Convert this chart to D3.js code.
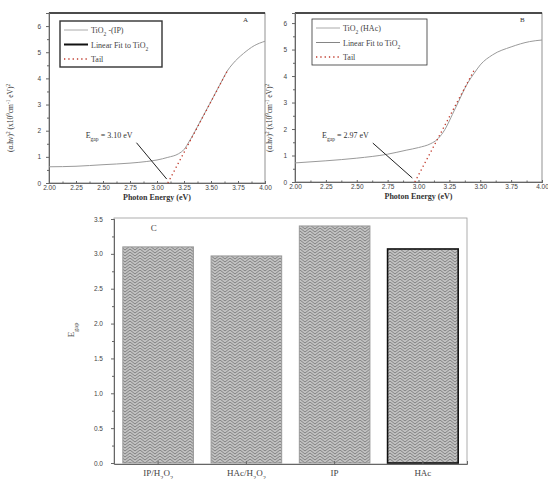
<!DOCTYPE html>
<html lang="en">
<head>
<meta charset="UTF-8">
<title>TiO2 band gap</title>
<script src="https://d3js.org/d3.v7.min.js"></script>
<style>
    body { margin: 0; background: #fff; }
    svg { display: block; font-family: "Liberation Serif", "DejaVu Serif", serif; }
    .tick text { font-size: 6.5px; fill: #444; }
    .domain { stroke: #666; }
    .tick line { stroke: #666; }
</style>
</head>
<body>
<svg id="chart" width="548" height="479"></svg>
<script>
// Panel A: TiO2 (IP)
const energyA = [2.00, 2.25, 2.50, 2.75, 2.90, 3.00, 3.10, 3.20, 3.25, 3.30, 3.40, 3.50, 3.60, 3.65, 3.70, 3.80, 3.90, 4.00];
const absA    = [0.62, 0.64, 0.70, 0.76, 0.82, 0.88, 0.98, 1.12, 1.28, 1.60, 2.35, 3.12, 3.90, 4.28, 4.55, 4.95, 5.25, 5.42];
const tailA    = [[3.10, 0], [3.65, 4.28]];
const pointerA = [[2.81, 1.54], [3.09, 0.15]];

// Panel B: TiO2 (HAc)
const energyB = [2.00, 2.25, 2.50, 2.75, 2.90, 3.00, 3.10, 3.15, 3.20, 3.30, 3.40, 3.45, 3.50, 3.60, 3.75, 3.90, 4.00];
const absB    = [0.72, 0.80, 0.90, 1.05, 1.20, 1.30, 1.45, 1.60, 1.88, 2.80, 3.75, 4.10, 4.42, 4.80, 5.10, 5.30, 5.36];
const tailB    = [[2.97, 0], [3.45, 4.22]];
const pointerB = [[2.63, 1.47], [2.95, 0.15]];

const energyTicks = [2.00, 2.25, 2.50, 2.75, 3.00, 3.25, 3.50, 3.75, 4.00];
const absTicks = [0, 1, 2, 3, 4, 5, 6];

// Panel C: band gaps
const samples = ["IP/H2O2", "HAc/H2O2", "IP", "HAc"];
const gaps = [3.10, 2.97, 3.40, 3.07];
const gapTicks = [0.0, 0.5, 1.0, 1.5, 2.0, 2.5, 3.0, 3.5];

const svg = d3.select("#chart");

// herringbone fill for the bars
const defs = svg.append("defs");
const pat = defs.append("pattern")
    .attr("id", "herring")
    .attr("patternUnits", "userSpaceOnUse")
    .attr("width", 10).attr("height", 6);
pat.append("rect").attr("width", 10).attr("height", 6).attr("fill", "#c2c2c2");
pat.append("path")
    .attr("d", "M0,0 L5,4 L10,0 M0,3 L5,7 L10,3 M0,-3 L5,1 L10,-3")
    .attr("fill", "none").attr("stroke", "#7a7a7a").attr("stroke-width", 0.9);

// write text with sub/superscripts: parts = [[text, "sub"|"sup"|""], ...]
function richText(sel, parts, size) {
    parts.forEach(([t, k]) => {
        const ts = sel.append("tspan").text(t);
        if (k === "sub") ts.attr("baseline-shift", "sub").attr("font-size", size * 0.7);
        if (k === "sup") ts.attr("baseline-shift", "super").attr("font-size", size * 0.7);
    });
    return sel;
}

function curvePanel(o) {
    const x = d3.scaleLinear().domain([2, 4]).range([o.left, o.right]);
    const y = d3.scaleLinear().domain([0, o.ymax]).range([o.bottom, o.top]);
    const g = svg.append("g");

    // frame
    g.append("rect")
        .attr("x", o.left).attr("y", o.top)
        .attr("width", o.right - o.left).attr("height", o.bottom - o.top)
        .attr("fill", "none").attr("stroke", "#777").attr("stroke-width", 0.8);
    g.append("line")
        .attr("x1", o.left).attr("x2", o.right).attr("y1", o.top).attr("y2", o.top)
        .attr("stroke", "#222").attr("stroke-width", 1.6);

    g.append("g")
        .attr("transform", `translate(0,${o.bottom})`)
        .call(d3.axisBottom(x).tickValues(energyTicks).tickFormat(d3.format(".2f")).tickSize(-2).tickPadding(2));
    g.append("g")
        .attr("transform", `translate(0,${o.bottom})`)
        .call(d3.axisBottom(x).tickValues(d3.range(2.125, 4, 0.25)).tickFormat("").tickSize(-1.5));
    g.append("g")
        .attr("transform", `translate(${o.left},0)`)
        .call(d3.axisLeft(y).tickValues(absTicks).tickFormat(d3.format("d")).tickSize(3).tickPadding(5));
    g.append("g")
        .attr("transform", `translate(${o.left},0)`)
        .call(d3.axisLeft(y).tickValues(d3.range(0.5, o.ymax, 1)).tickFormat("").tickSize(2));

    const line = d3.line().x(d => x(d[0])).y(d => y(d[1])).curve(d3.curveMonotoneX);
    g.append("path")
        .datum(o.ex.map((e, i) => [e, o.ab[i]]))
        .attr("d", line)
        .attr("fill", "none").attr("stroke", "#9a9a9a").attr("stroke-width", 1);
    g.append("path")
        .datum(o.tail)
        .attr("d", d3.line().x(d => x(d[0])).y(d => y(d[1])))
        .attr("fill", "none").attr("stroke", "#c0392b").attr("stroke-width", 1.3)
        .attr("stroke-dasharray", "1.3,3");
    g.append("path")
        .datum(o.pointer)
        .attr("d", d3.line().x(d => x(d[0])).y(d => y(d[1])))
        .attr("fill", "none").attr("stroke", "#222").attr("stroke-width", 1);

    // gap annotation
    const ann = g.append("text")
        .attr("x", x(o.pointer[0][0]) - 4).attr("y", y(o.pointer[0][1]) - 5)
        .attr("text-anchor", "end").attr("font-size", 8).attr("fill", "#333");
    richText(ann, [["E", ""], ["gap", "sub"], [" = " + o.gapText, ""]], 8);

    // panel letter
    g.append("text")
        .attr("x", o.right - 22).attr("y", o.top + 9)
        .attr("font-size", 7).attr("fill", "#333").text(o.letter);

    // legend
    const lg = g.append("g").attr("transform", `translate(${o.legX},${o.legY})`);
    lg.append("rect").attr("width", o.legW).attr("height", 46)
        .attr("fill", "#fff").attr("stroke", "#333").attr("stroke-width", o.legBorder);
    const rows = [
        { parts: o.name, stroke: "#aaa", w: 1, dash: null },
        { parts: [["Linear Fit to TiO", ""], ["2", "sub"]], stroke: o.fitColor, w: o.fitWidth, dash: null },
        { parts: [["Tail", ""]], stroke: "#c0392b", w: 1.3, dash: "1.3,3" }
    ];
    rows.forEach((r, i) => {
        const yy = 9 + i * 14.5;
        lg.append("line").attr("x1", 4).attr("x2", 28).attr("y1", yy).attr("y2", yy)
            .attr("stroke", r.stroke).attr("stroke-width", r.w)
            .attr("stroke-dasharray", r.dash);
        richText(lg.append("text").attr("x", 31).attr("y", yy + 3)
            .attr("font-size", 8).attr("fill", "#444"), r.parts, 8);
    });

    // axis titles
    g.append("text")
        .attr("x", (o.left + o.right) / 2).attr("y", o.bottom + 17)
        .attr("text-anchor", "middle").attr("font-size", 8).attr("font-weight", "bold").attr("fill", "#333")
        .text("Photon Energy (eV)");
    const yl = g.append("text")
        .attr("transform", `translate(${o.ylabX},${o.ylabY}) rotate(-90)`)
        .attr("text-anchor", "middle").attr("font-size", 7.5).attr("fill", "#333");
    richText(yl, [["(α.hν)", ""], ["2", "sup"], [" (x10", ""], ["9", "sup"], ["cm", ""], ["-1", "sup"], [" eV)", ""], ["2", "sup"]], 7.5);
}

curvePanel({
    left: 49, right: 265, top: 13, bottom: 183, ymax: 6.5,
    ex: energyA, ab: absA, tail: tailA, pointer: pointerA,
    gapText: "3.10 eV", letter: "A",
    legX: 60, legY: 21, legW: 102, legBorder: 1.4,
    name: [["TiO", ""], ["2", "sub"], [" -(IP)", ""]],
    fitColor: "#111", fitWidth: 2,
    ylabX: 13, ylabY: 118
});

curvePanel({
    left: 295, right: 542, top: 13, bottom: 182, ymax: 6.38,
    ex: energyB, ab: absB, tail: tailB, pointer: pointerB,
    gapText: "2.97 eV", letter: "B",
    legX: 312, legY: 19, legW: 115, legBorder: 0.8,
    name: [["TiO", ""], ["2", "sub"], ["  (HAc)", ""]],
    fitColor: "#777", fitWidth: 0.9,
    ylabX: 272, ylabY: 118
});

// Panel C
const cLeft = 114, cRight = 467, cTop = 219, cBottom = 463;
const xc = d3.scaleBand().domain(samples).range([cLeft, cRight]).paddingInner(0.2).paddingOuter(0.1);
const yc = d3.scaleLinear().domain([0, 3.5]).range([cBottom, cTop]);
const gc = svg.append("g");

gc.append("rect")
    .attr("x", cLeft).attr("y", cTop - 1)
    .attr("width", cRight - cLeft).attr("height", cBottom - cTop + 2)
    .attr("fill", "none").attr("stroke", "#999").attr("stroke-width", 0.8);

gc.selectAll(".bar")
    .data(samples)
    .enter().append("rect")
    .attr("class", "bar")
    .attr("x", d => xc(d))
    .attr("y", (d, i) => yc(gaps[i]))
    .attr("width", xc.bandwidth())
    .attr("height", (d, i) => cBottom - yc(gaps[i]))
    .attr("fill", "url(#herring)")
    .attr("stroke", (d, i) => i === 3 ? "#111" : "#999")
    .attr("stroke-width", (d, i) => i === 3 ? 1.6 : 1);

gc.append("g")
    .attr("transform", `translate(${cLeft},0)`)
    .call(d3.axisLeft(yc).tickValues(gapTicks).tickFormat(d3.format(".1f")).tickSize(3).tickPadding(8));
gc.append("g")
    .attr("transform", `translate(${cLeft},0)`)
    .call(d3.axisLeft(yc).tickValues(d3.range(0.25, 3.5, 0.5)).tickFormat("").tickSize(2));

const xAxisC = gc.append("g")
    .attr("transform", `translate(0,${cBottom + 1})`)
    .call(d3.axisBottom(xc).tickSize(-3).tickFormat(""));
xAxisC.select(".domain").attr("stroke", "#999");

const catParts = {
    "IP/H2O2": [["IP/H", ""], ["2", "sub"], ["O", ""], ["2", "sub"]],
    "HAc/H2O2": [["HAc/H", ""], ["2", "sub"], ["O", ""], ["2", "sub"]],
    "IP": [["IP", ""]],
    "HAc": [["HAc", ""]]
};
samples.forEach(s => {
    richText(gc.append("text")
        .attr("x", xc(s) + xc.bandwidth() / 2).attr("y", cBottom + 13)
        .attr("text-anchor", "middle").attr("font-size", 9).attr("fill", "#444"), catParts[s], 9);
});

gc.append("text")
    .attr("x", xc(samples[0]) + 28).attr("y", cTop + 12)
    .attr("font-size", 9).attr("fill", "#444").text("C");

const ylc = gc.append("text")
    .attr("transform", `translate(74,330) rotate(-90)`)
    .attr("text-anchor", "middle").attr("font-size", 9).attr("fill", "#444");
richText(ylc, [["E", ""], ["gap", "sub"]], 9);
</script>
</body>
</html>
